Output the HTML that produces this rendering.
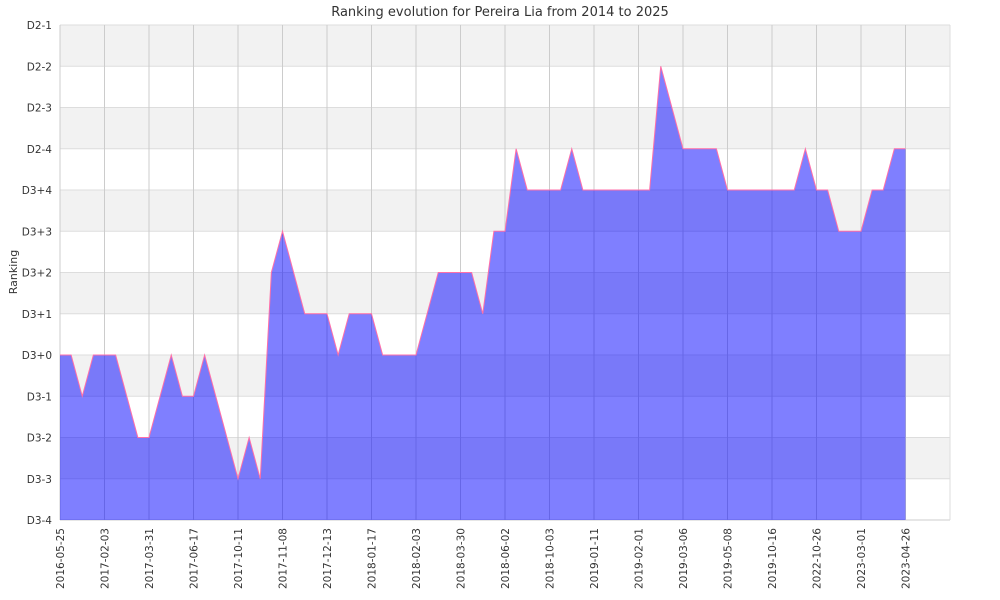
<!DOCTYPE html>
<html><head><meta charset="utf-8"><style>
body{margin:0;background:#fff;}
svg{display:block;font-family:"DejaVu Sans","Liberation Sans",sans-serif;}
</style></head><body>
<svg id="chart" width="1000" height="600" viewBox="0 0 1000 600">
<text x="500" y="16" text-anchor="middle" font-size="13" fill="#333">Ranking evolution for Pereira Lia from 2014 to 2025</text>
<text transform="translate(17,272) rotate(-90)" text-anchor="middle" font-size="11" fill="#333">Ranking</text>
<g id="bands"></g><g id="grid"></g><g id="series"></g><g id="labels"></g>
</svg>
<script>
const levelLabels = ["D3-4","D3-3","D3-2","D3-1","D3+0","D3+1","D3+2","D3+3","D3+4","D2-4","D2-3","D2-2","D2-1"];
const tickLabels = ["2016-05-25","2017-02-03","2017-03-31","2017-06-17","2017-10-11","2017-11-08","2017-12-13","2018-01-17","2018-02-03","2018-03-30","2018-06-02","2018-10-03","2019-01-11","2019-02-01","2019-03-06","2019-05-08","2019-10-16","2022-10-26","2023-03-01","2023-04-26"];
const values = [4,4,3,4,4,4,3,2,2,3,4,3,3,4,3,2,1,2,1,6,7,6,5,5,5,4,5,5,5,4,4,4,4,5,6,6,6,6,5,7,7,9,8,8,8,8,9,8,8,8,8,8,8,8,11,10,9,9,9,9,8,8,8,8,8,8,8,9,8,8,7,7,7,8,8,9,9];
const NS="http://www.w3.org/2000/svg";
const L=60,R=950,T=25,B=520;
const step=(905.5-L)/(values.length-1);
const xs=i=>L+i*step;
const ys=v=>B-v*(B-T)/(levelLabels.length-1);
function mk(tag,attrs,parent){const e=document.createElementNS(NS,tag);for(const k in attrs)e.setAttribute(k,attrs[k]);document.getElementById(parent).appendChild(e);return e;}
for(let k=0;k<levelLabels.length-1;k++){
  const r=mk('rect',{x:L,y:ys(k+1),width:R-L,height:ys(k)-ys(k+1),fill:(k%2===1)?'#f2f2f2':'#ffffff'},'bands');
  
  
}
levelLabels.forEach((lab,k)=>{
  const y=ys(k);
  const g=mk('line',{x1:L,x2:R,y1:y,y2:y,stroke:'#dddddd','stroke-width':1},'grid');
  
  
  const t=mk('text',{x:52,y:y+4,'text-anchor':'end','font-size':10.5,fill:'#333'},'labels');
  t.textContent=lab;
  
  
});
tickLabels.forEach((lab,j)=>{
  const x=xs(j*4);
  const g=mk('line',{x1:x,x2:x,y1:T,y2:B,stroke:'#cccccc','stroke-width':1},'grid');
  
  
  const t=mk('text',{transform:`translate(${x+4},${B+8}) rotate(-90)`,'text-anchor':'end','font-size':10.5,fill:'#333'},'labels');
  t.textContent=lab;
  
  
});
mk('line',{x1:L,x2:R,y1:B,y2:B,stroke:'#ccc'},'grid');
mk('line',{x1:R,x2:R,y1:T,y2:B,stroke:'#ddd'},'grid');
let pts=values.map((v,i)=>xs(i)+','+ys(v)).join(' ');
const area=mk('polygon',{points:`${xs(0)},${B} ${pts} ${xs(values.length-1)},${B}`,fill:'rgba(0,0,255,0.5)'},'series');


const line=mk('polyline',{points:pts,fill:'none',stroke:'#ff6fa8','stroke-width':1},'series');


</script>
</body></html>
